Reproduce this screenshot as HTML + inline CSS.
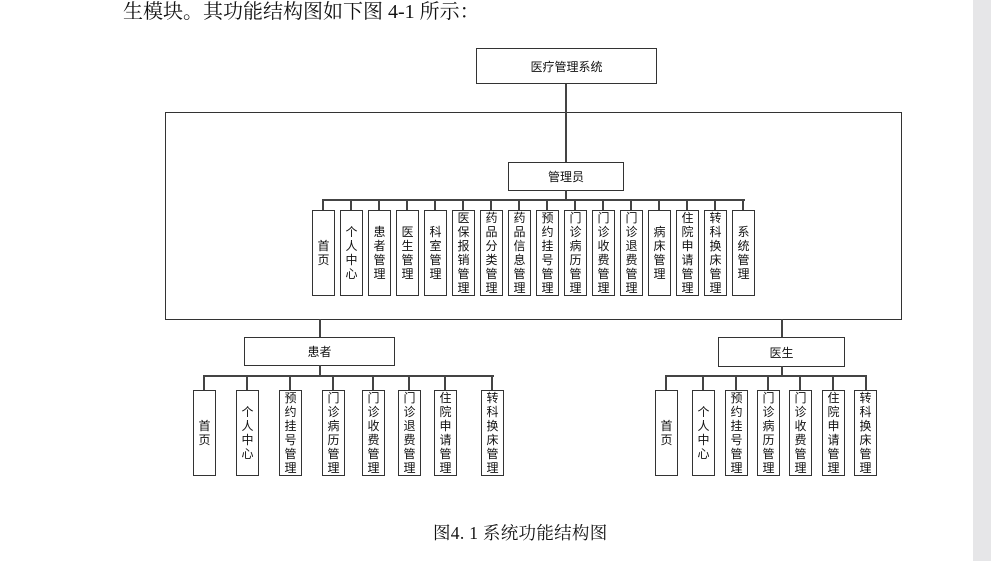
<!DOCTYPE html>
<html><head><meta charset="utf-8"><style>
body{margin:0;width:991px;height:561px;background:#fff;position:relative;overflow:hidden;font-family:"Liberation Sans","Noto Sans CJK SC",sans-serif;color:#111}
.b{position:absolute;border:1.5px solid #333;box-sizing:border-box;background:#fff;display:flex;align-items:center;justify-content:center;font-size:12px}
.v{width:23px;height:86px;top:210px;flex-direction:column;line-height:14px;text-align:center;padding:0 4px;word-break:break-all}
.h{position:absolute;height:2px;background:#444}
.l{position:absolute;width:2px;background:#444}
.t{position:absolute;font-family:"Liberation Serif","Noto Serif CJK SC",serif;white-space:nowrap}
</style></head><body>
<div style="position:absolute;left:973px;top:0;width:18px;height:561px;background:#e6e6e8"></div>
<div class="t" style="left:123px;top:-5px;font-size:20px">生模块。其功能结构图如下图 4-1 所示：</div>
<div class="t" style="left:433px;top:520px;font-size:17.5px;letter-spacing:0.3px">图4. 1 系统功能结构图</div>

<div class="b" style="left:476px;top:48px;width:181px;height:36px">医疗管理系统</div>
<div class="l" style="left:565px;top:84px;height:29px"></div>
<div style="position:absolute;left:165px;top:112px;width:737px;height:208px;border:1.5px solid #333;box-sizing:border-box"></div>
<div class="l" style="left:565px;top:112px;height:50px"></div>
<div class="b" style="left:508px;top:162px;width:116px;height:29px">管理员</div>
<div class="l" style="left:565px;top:190px;height:11px"></div>
<div class="h" style="left:322px;top:199px;width:423px"></div>
<div class="l" style="left:322px;top:199px;height:11px"></div><div class="l" style="left:350px;top:199px;height:11px"></div><div class="l" style="left:378px;top:199px;height:11px"></div><div class="l" style="left:406px;top:199px;height:11px"></div><div class="l" style="left:434px;top:199px;height:11px"></div><div class="l" style="left:462px;top:199px;height:11px"></div><div class="l" style="left:490px;top:199px;height:11px"></div><div class="l" style="left:518px;top:199px;height:11px"></div><div class="l" style="left:546px;top:199px;height:11px"></div><div class="l" style="left:574px;top:199px;height:11px"></div><div class="l" style="left:602px;top:199px;height:11px"></div><div class="l" style="left:630px;top:199px;height:11px"></div><div class="l" style="left:658px;top:199px;height:11px"></div><div class="l" style="left:686px;top:199px;height:11px"></div><div class="l" style="left:714px;top:199px;height:11px"></div><div class="l" style="left:742px;top:199px;height:11px"></div>
<div class="b v" style="left:312px">首页</div>
<div class="b v" style="left:340px">个人中心</div>
<div class="b v" style="left:368px">患者管理</div>
<div class="b v" style="left:396px">医生管理</div>
<div class="b v" style="left:424px">科室管理</div>
<div class="b v" style="left:452px">医保报销管理</div>
<div class="b v" style="left:480px">药品分类管理</div>
<div class="b v" style="left:508px">药品信息管理</div>
<div class="b v" style="left:536px">预约挂号管理</div>
<div class="b v" style="left:564px">门诊病历管理</div>
<div class="b v" style="left:592px">门诊收费管理</div>
<div class="b v" style="left:620px">门诊退费管理</div>
<div class="b v" style="left:648px">病床管理</div>
<div class="b v" style="left:676px">住院申请管理</div>
<div class="b v" style="left:704px">转科换床管理</div>
<div class="b v" style="left:732px">系统管理</div>

<div class="l" style="left:319px;top:319px;height:18px"></div>
<div class="b" style="left:244px;top:337px;width:151px;height:29px">患者</div>
<div class="l" style="left:319px;top:365px;height:11px"></div>
<div class="h" style="left:203px;top:375px;width:291px"></div>
<div class="l" style="left:203px;top:375px;height:15px"></div><div class="l" style="left:246px;top:375px;height:15px"></div><div class="l" style="left:289px;top:375px;height:15px"></div><div class="l" style="left:332px;top:375px;height:15px"></div><div class="l" style="left:372px;top:375px;height:15px"></div><div class="l" style="left:408px;top:375px;height:15px"></div><div class="l" style="left:444px;top:375px;height:15px"></div><div class="l" style="left:491px;top:375px;height:15px"></div>
<div class="b v" style="left:193px;top:390px">首页</div>
<div class="b v" style="left:236px;top:390px">个人中心</div>
<div class="b v" style="left:279px;top:390px">预约挂号管理</div>
<div class="b v" style="left:322px;top:390px">门诊病历管理</div>
<div class="b v" style="left:362px;top:390px">门诊收费管理</div>
<div class="b v" style="left:398px;top:390px">门诊退费管理</div>
<div class="b v" style="left:434px;top:390px">住院申请管理</div>
<div class="b v" style="left:481px;top:390px">转科换床管理</div>

<div class="l" style="left:781px;top:319px;height:18px"></div>
<div class="b" style="left:718px;top:337px;width:127px;height:30px">医生</div>
<div class="l" style="left:781px;top:366px;height:10px"></div>
<div class="h" style="left:665px;top:375px;width:202px"></div>
<div class="l" style="left:665px;top:375px;height:15px"></div><div class="l" style="left:702px;top:375px;height:15px"></div><div class="l" style="left:735px;top:375px;height:15px"></div><div class="l" style="left:767px;top:375px;height:15px"></div><div class="l" style="left:799px;top:375px;height:15px"></div><div class="l" style="left:832px;top:375px;height:15px"></div><div class="l" style="left:865px;top:375px;height:15px"></div>
<div class="b v" style="left:655px;top:390px">首页</div>
<div class="b v" style="left:692px;top:390px">个人中心</div>
<div class="b v" style="left:725px;top:390px">预约挂号管理</div>
<div class="b v" style="left:757px;top:390px">门诊病历管理</div>
<div class="b v" style="left:789px;top:390px">门诊收费管理</div>
<div class="b v" style="left:822px;top:390px">住院申请管理</div>
<div class="b v" style="left:854px;top:390px">转科换床管理</div>
</body></html>
